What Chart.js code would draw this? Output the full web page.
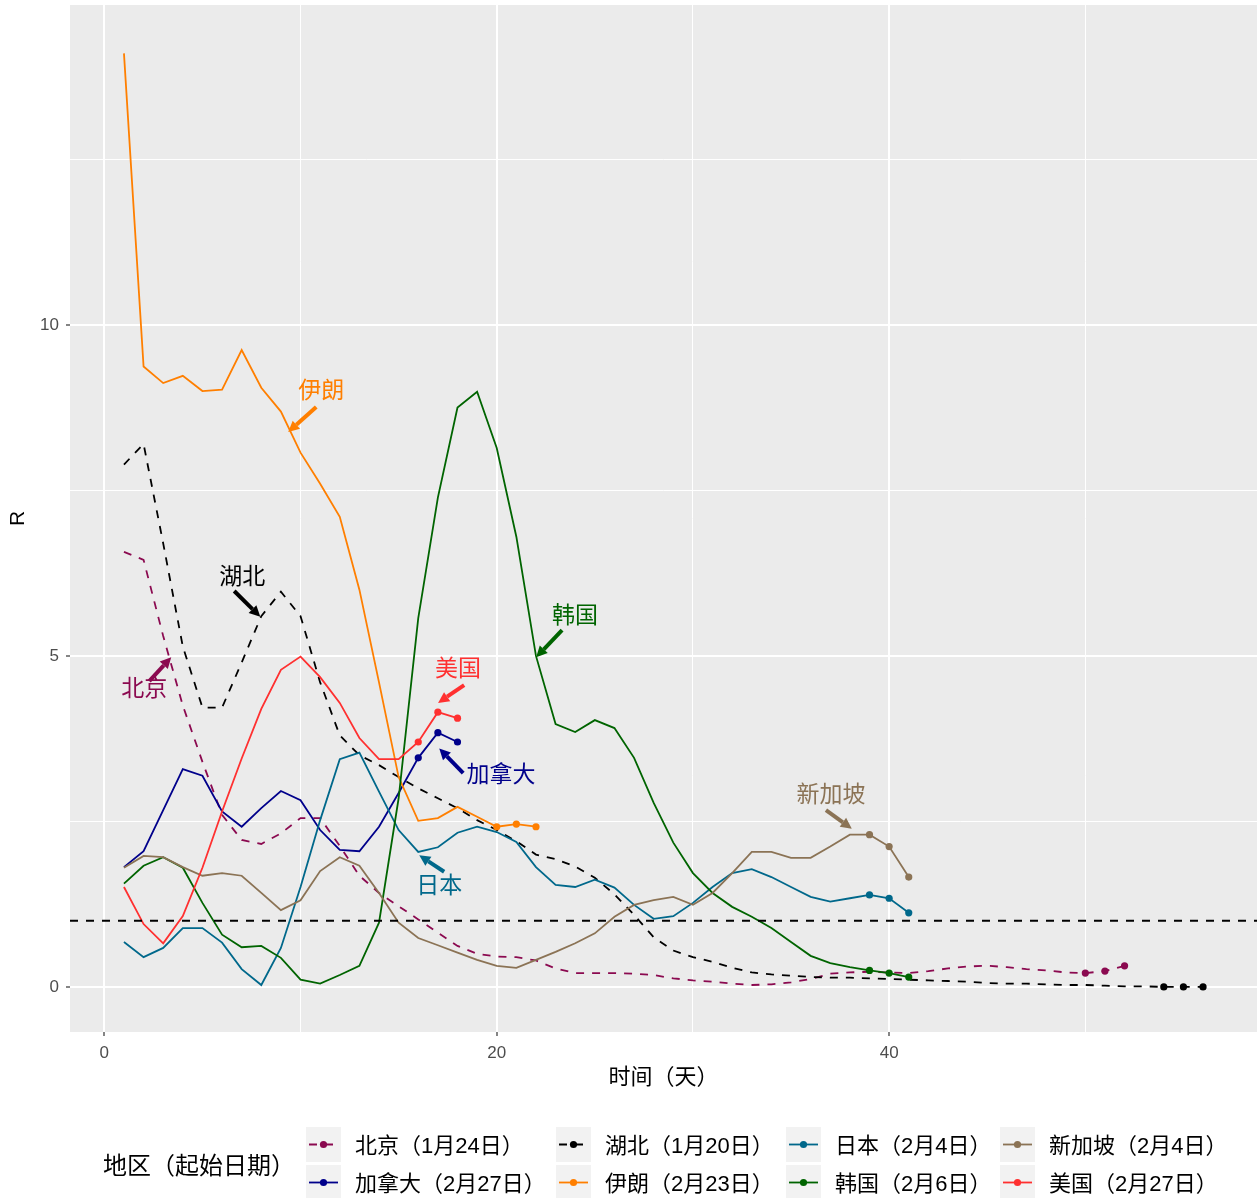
<!DOCTYPE html>
<html><head><meta charset="utf-8">
<script src="https://cdn.jsdelivr.net/npm/chart.js@4.4.1/dist/chart.umd.min.js"></script>
<style>html,body{margin:0;padding:0;background:#fff;}#wrap{width:1257px;height:1198px;position:relative;}</style>
</head><body><div id="wrap"><canvas id="c" width="1257" height="1198"></canvas></div>
<script>
// ---------- data ----------
const seriesNames  = ['北京','加拿大','湖北','伊朗','日本','韩国','新加坡','美国'];
const legendLabels = ['北京（1月24日）','加拿大（2月27日）','湖北（1月20日）','伊朗（2月23日）','日本（2月4日）','韩国（2月6日）','新加坡（2月4日）','美国（2月27日）'];
const seriesColors = ['#8B0A50','#00008B','#000000','#FF7F00','#00688B','#006400','#8B7355','#FF3030'];
const seriesDashed = [true,false,true,false,false,false,false,false];

const beijing = [6.57,6.45,5.3,4.25,3.4,2.6,2.22,2.16,2.32,2.55,2.55,2.13,1.68,1.42,1.22,1.02,0.82,0.62,0.5,0.46,
  0.45,0.4,0.28,0.21,0.21,0.21,0.2,0.18,0.13,0.1,0.08,0.05,0.03,0.04,0.07,0.12,0.2,0.22,0.23,0.22,
  0.21,0.24,0.28,0.31,0.32,0.3,0.27,0.25,0.22,0.21,0.24,0.32];
const canada = [1.81,2.05,2.67,3.29,3.19,2.65,2.42,2.7,2.96,2.82,2.37,2.07,2.05,2.42,2.93,3.46,3.84,3.7];
const hubei = [7.89,8.2,6.7,5.14,4.22,4.22,4.9,5.6,5.97,5.6,4.6,3.8,3.5,3.35,3.17,3.0,2.85,2.7,2.52,2.37,
  2.2,2.0,1.93,1.82,1.65,1.4,1.09,0.75,0.55,0.45,0.38,0.29,0.22,0.19,0.17,0.15,0.14,0.14,0.13,0.12,
  0.11,0.1,0.09,0.08,0.06,0.05,0.05,0.04,0.03,0.03,0.02,0.01,0.01,0,0,0];
const iran = [14.1,9.37,9.12,9.23,9.0,9.02,9.62,9.05,8.69,8.07,7.6,7.1,6.0,4.6,3.17,2.51,2.55,2.72,2.57,2.42,2.46,2.42];
const japan = [0.68,0.45,0.59,0.89,0.89,0.67,0.27,0.03,0.59,1.51,2.52,3.44,3.54,2.95,2.37,2.04,2.11,2.33,2.42,2.34,
  2.19,1.81,1.54,1.51,1.62,1.5,1.24,1.03,1.07,1.27,1.51,1.72,1.78,1.66,1.51,1.36,1.29,1.34,1.39,1.34,1.12];
const korea = [1.56,1.83,1.96,1.8,1.27,0.79,0.6,0.62,0.44,0.11,0.05,0.18,0.32,0.97,2.85,5.57,7.39,8.75,8.99,8.14,
  6.8,5.0,3.97,3.85,4.03,3.91,3.46,2.78,2.18,1.72,1.42,1.21,1.06,0.89,0.68,0.47,0.36,0.3,0.25,0.21,0.15];
const singapore = [1.8,1.98,1.96,1.81,1.68,1.72,1.68,1.42,1.16,1.31,1.75,1.96,1.83,1.42,0.97,0.74,0.63,0.52,0.41,0.32,
  0.29,0.41,0.53,0.66,0.81,1.06,1.24,1.31,1.36,1.24,1.42,1.72,2.04,2.04,1.95,1.95,2.12,2.3,2.3,2.12,1.66];
const usa = [1.51,0.95,0.66,1.07,1.8,2.65,3.45,4.2,4.79,4.99,4.68,4.29,3.76,3.44,3.44,3.7,4.15,4.06];
const seriesValues = [beijing,canada,hubei,iran,japan,korea,singapore,usa];

const refLineY = 1;
const xTickValues = [0,10,20,30,40,50];
const xTickLabels = ['0','','20','','40',''];
const yTickValues = [0,2.5,5,7.5,10,12.5];
const yTickLabels = ['0','','5','','10',''];

// annotations (data units)
const annoSeries = [3,2,0,7,1,4,5,6];
const annoTextX = [11.05,7.03,2.04,18.03,20.22,17.07,23.99,37.04];
const annoTextY = [8.99,6.18,4.49,4.79,3.19,1.51,5.59,2.89];
const annoFromX = [10.8,6.62,2.29,18.34,18.29,17.32,23.33,36.78];
const annoFromY = [8.76,5.98,4.62,4.56,3.23,1.74,5.39,2.67];
const annoToX   = [9.37,7.95,3.41,17.01,17.07,16.05,22.01,38.1];
const annoToY   = [8.38,5.59,4.98,4.29,3.6,1.99,4.98,2.39];

// ---------- chart ----------
const CJK = '"Liberation Sans","Noto Sans CJK SC",sans-serif';
const datasets = seriesValues.map((vals,i)=>({
  label: legendLabels[i],
  data: vals.map((v,j)=>({x:j+1,y:v})),
  borderColor: seriesColors[i],
  backgroundColor: seriesColors[i],
  borderWidth: 1.8,
  borderDash: seriesDashed[i] ? [8,8] : [],
  tension: 0,
  pointRadius: ctx => ctx.dataIndex >= vals.length-3 ? 3.6 : 0,
  pointBorderWidth: 0,
  pointHoverRadius: 0,
  order: 8 - i
}));
datasets.push({
  label: 'ref',
  data: [{x:-1.75,y:refLineY},{x:58.75,y:refLineY}],
  borderColor: '#000', borderWidth: 1.8, borderDash: [8,8],
  pointRadius: 0, order: 0
});

const panelBg = {
  id:'panelBg',
  beforeDraw(chart){
    const {ctx, chartArea:a} = chart;
    ctx.save(); ctx.fillStyle='#EBEBEB';
    ctx.fillRect(a.left,a.top,a.right-a.left,a.bottom-a.top); ctx.restore();
  }
};

function drawArrow(ctx,x1,y1,x2,y2,color){
  const ang=Math.atan2(y2-y1,x2-x1), head=11, hw=5.5;
  const bx=x2-head*Math.cos(ang), by=y2-head*Math.sin(ang);
  ctx.strokeStyle=color; ctx.lineWidth=4; ctx.lineCap='butt';
  ctx.beginPath(); ctx.moveTo(x1,y1); ctx.lineTo(bx,by); ctx.stroke();
  ctx.fillStyle=color; ctx.beginPath(); ctx.moveTo(x2,y2);
  ctx.lineTo(bx+hw*Math.sin(ang), by-hw*Math.cos(ang));
  ctx.lineTo(bx-hw*Math.sin(ang), by+hw*Math.cos(ang));
  ctx.closePath(); ctx.fill();
}

const annoPlugin = {
  id:'annos',
  afterDatasetsDraw(chart){
    const {ctx, scales:{x,y}} = chart;
    ctx.save();
    annoSeries.forEach((s,i)=>{
      const c = seriesColors[s];
      drawArrow(ctx, x.getPixelForValue(annoFromX[i]), y.getPixelForValue(annoFromY[i]),
                     x.getPixelForValue(annoToX[i]), y.getPixelForValue(annoToY[i]), c);
      ctx.fillStyle=c; ctx.font='23px '+CJK; ctx.textAlign='center'; ctx.textBaseline='middle';
      ctx.fillText(seriesNames[s], x.getPixelForValue(annoTextX[i]), y.getPixelForValue(annoTextY[i]));
    });
    ctx.restore();
  }
};

const legendPlugin = {
  id:'ggLegend',
  afterDraw(chart){
    const ctx = chart.ctx;
    ctx.save();
    ctx.fillStyle='#000'; ctx.font='24px '+CJK; ctx.textAlign='left'; ctx.textBaseline='middle';
    ctx.fillText('地区（起始日期）', 103, 1167);
    const colX = [306,556,786,1000];
    const rowY = [1127,1165];
    const keyW = 35, keyH = 35;
    for(let i=0;i<8;i++){
      const col = Math.floor(i/2), row = i%2;
      const kx = colX[col], ky = rowY[row];
      ctx.fillStyle='#F2F2F2'; ctx.fillRect(kx,ky,keyW,keyH);
      const cy = ky+keyH/2;
      ctx.strokeStyle=seriesColors[i]; ctx.lineWidth=1.8;
      ctx.setLineDash(seriesDashed[i]?[8,8]:[]);
      ctx.beginPath(); ctx.moveTo(kx+3,cy); ctx.lineTo(kx+keyW-3,cy); ctx.stroke();
      ctx.setLineDash([]);
      ctx.fillStyle=seriesColors[i]; ctx.beginPath(); ctx.arc(kx+keyW/2,cy,3.6,0,Math.PI*2); ctx.fill();
      ctx.fillStyle='#000'; ctx.font='22px '+CJK;
      ctx.fillText(legendLabels[i], kx+keyW+14, cy+2);
    }
    ctx.restore();
  }
};

const isMajorX = v => Math.abs(v%20) < 1e-9;
const isMajorY = v => Math.abs(v%5) < 1e-9;
const zeroPad = s => { s.paddingTop=0; s.paddingBottom=0; s.paddingLeft=0; s.paddingRight=0; };

new Chart(document.getElementById('c'), {
  type:'line',
  data:{datasets},
  plugins:[panelBg, annoPlugin, legendPlugin],
  options:{
    responsive:false, animation:false, devicePixelRatio:1,
    layout:{autoPadding:false, padding:{top:5,bottom:103,left:0,right:0}},
    plugins:{legend:{display:false}, tooltip:{enabled:false}},
    scales:{
      x:{
        type:'linear', min:-1.75, max:58.75,
        afterBuildTicks: s => { s.ticks = xTickValues.map(v=>({value:v})); },
        afterFit: s => { s.height = 63; zeroPad(s); },
        ticks:{ autoSkip:false, maxRotation:0, padding:7, color:'#4D4D4D',
          font:{family:CJK,size:17},
          callback: v => xTickLabels[xTickValues.indexOf(v)] },
        grid:{ color:'#FFFFFF', lineWidth: c => (c.tick && isMajorX(c.tick.value)) ? 2 : 1,
          tickColor: c => (c.tick && isMajorX(c.tick.value)) ? '#333333' : 'rgba(0,0,0,0)',
          tickLength:4, tickWidth:1.2 },
        border:{display:false},
        title:{display:true, text:'时间（天）', color:'#000', font:{family:CJK,size:22}, padding:{top:0,bottom:4}}
      },
      y:{
        type:'linear', min:-0.68, max:14.83,
        afterBuildTicks: s => { s.ticks = yTickValues.map(v=>({value:v})); },
        afterFit: s => { s.width = 70; zeroPad(s); },
        ticks:{ autoSkip:false, padding:7, color:'#4D4D4D',
          font:{family:CJK,size:17},
          callback: v => yTickLabels[yTickValues.indexOf(v)] },
        grid:{ color:'#FFFFFF', lineWidth: c => (c.tick && isMajorY(c.tick.value)) ? 2 : 1,
          tickColor: c => (c.tick && isMajorY(c.tick.value)) ? '#333333' : 'rgba(0,0,0,0)',
          tickLength:4, tickWidth:1.2 },
        border:{display:false},
        title:{display:true, text:'R', color:'#000', font:{family:CJK,size:21}, padding:{top:6,bottom:0}}
      }
    }
  }
});
</script></body></html>
